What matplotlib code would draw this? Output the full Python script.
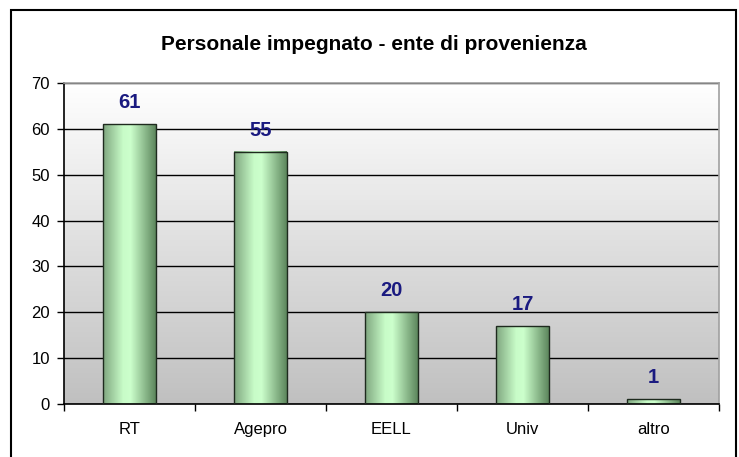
import numpy as np
import matplotlib
matplotlib.use('Agg')
import matplotlib.pyplot as plt
from matplotlib.colors import LinearSegmentedColormap
from matplotlib.patches import Rectangle

categories = ['RT', 'Agepro', 'EELL', 'Univ', 'altro']
values = [61, 55, 20, 17, 1]
y_ticks = [0, 10, 20, 30, 40, 50, 60, 70]

plt.rcParams['font.family'] = ['Liberation Sans', 'DejaVu Sans']

fig = plt.figure(figsize=(7.39, 4.57), dpi=100)
W, H = 739, 457

# outer chart border (bottom runs off the picture)
fig.patches.append(Rectangle((11 / W, -0.05), (736 - 11) / W, 1.05 - 10 / H,
                             transform=fig.transFigure, fill=False,
                             edgecolor='black', linewidth=1.5))

ax = fig.add_axes([64 / W, 1 - 404 / H, (719 - 64) / W, (404 - 83) / H])

# plot area gradient: white at top, grey at bottom
bg_cmap = LinearSegmentedColormap.from_list('bg', ['#c0c0c0', '#ffffff'])
grad = np.linspace(0, 1, 256).reshape(-1, 1)
ax.imshow(grad, cmap=bg_cmap, origin='lower', aspect='auto',
          extent=[0, 1, 0, 1], transform=ax.transAxes, zorder=0)

x = np.arange(len(categories))
bars = ax.bar(x, values, width=0.40, facecolor='none', edgecolor='#1e2a1e',
              linewidth=1.0, zorder=3)

# cylinder-like horizontal gradient inside each bar
bar_cmap = LinearSegmentedColormap.from_list(
    'bar', [(0, '#7fa67f'), (0.38, '#c8fcc8'), (0.52, '#ccffcc'), (1, '#5c865c')])
hgrad = np.linspace(0, 1, 256).reshape(1, -1)
for bar in bars:
    x0 = bar.get_x()
    ax.imshow(hgrad, cmap=bar_cmap, aspect='auto',
              extent=[x0, x0 + bar.get_width(), 0, bar.get_height()],
              zorder=2)

for xi, v in zip(x, values):
    ax.text(xi, v + 2.6, str(v), ha='center', va='bottom', fontsize=14.5,
            fontweight='bold', color='#1a1a80')

ax.set_xlim(-0.5, len(categories) - 0.5)
ax.set_ylim(0, 70)
ax.set_yticks(y_ticks)
ax.set_yticklabels([str(t) for t in y_ticks], fontsize=12)
ax.yaxis.grid(True, color='black', linewidth=1.0, zorder=1)
ax.set_axisbelow(True)

ax.set_xticks(x)
ax.set_xticklabels(categories, fontsize=12)
ax.tick_params(axis='x', length=0, pad=13)
ax.set_xticks(np.arange(-0.5, len(categories)), minor=True)
ax.tick_params(axis='x', which='minor', length=5, width=1, direction='out')
ax.tick_params(axis='y', length=5, width=1, direction='out', pad=5)

for side in ['top', 'right']:
    ax.spines[side].set_color('#a0a0a0')
    ax.spines[side].set_linewidth(1.2)
for side in ['left', 'bottom']:
    ax.spines[side].set_color('black')
    ax.spines[side].set_linewidth(1.2)

fig.text(374 / W, 1 - 45 / H, 'Personale impegnato - ente di provenienza',
         ha='center', va='center', fontsize=15, fontweight='bold')

fig.savefig('out.png', dpi=100)
